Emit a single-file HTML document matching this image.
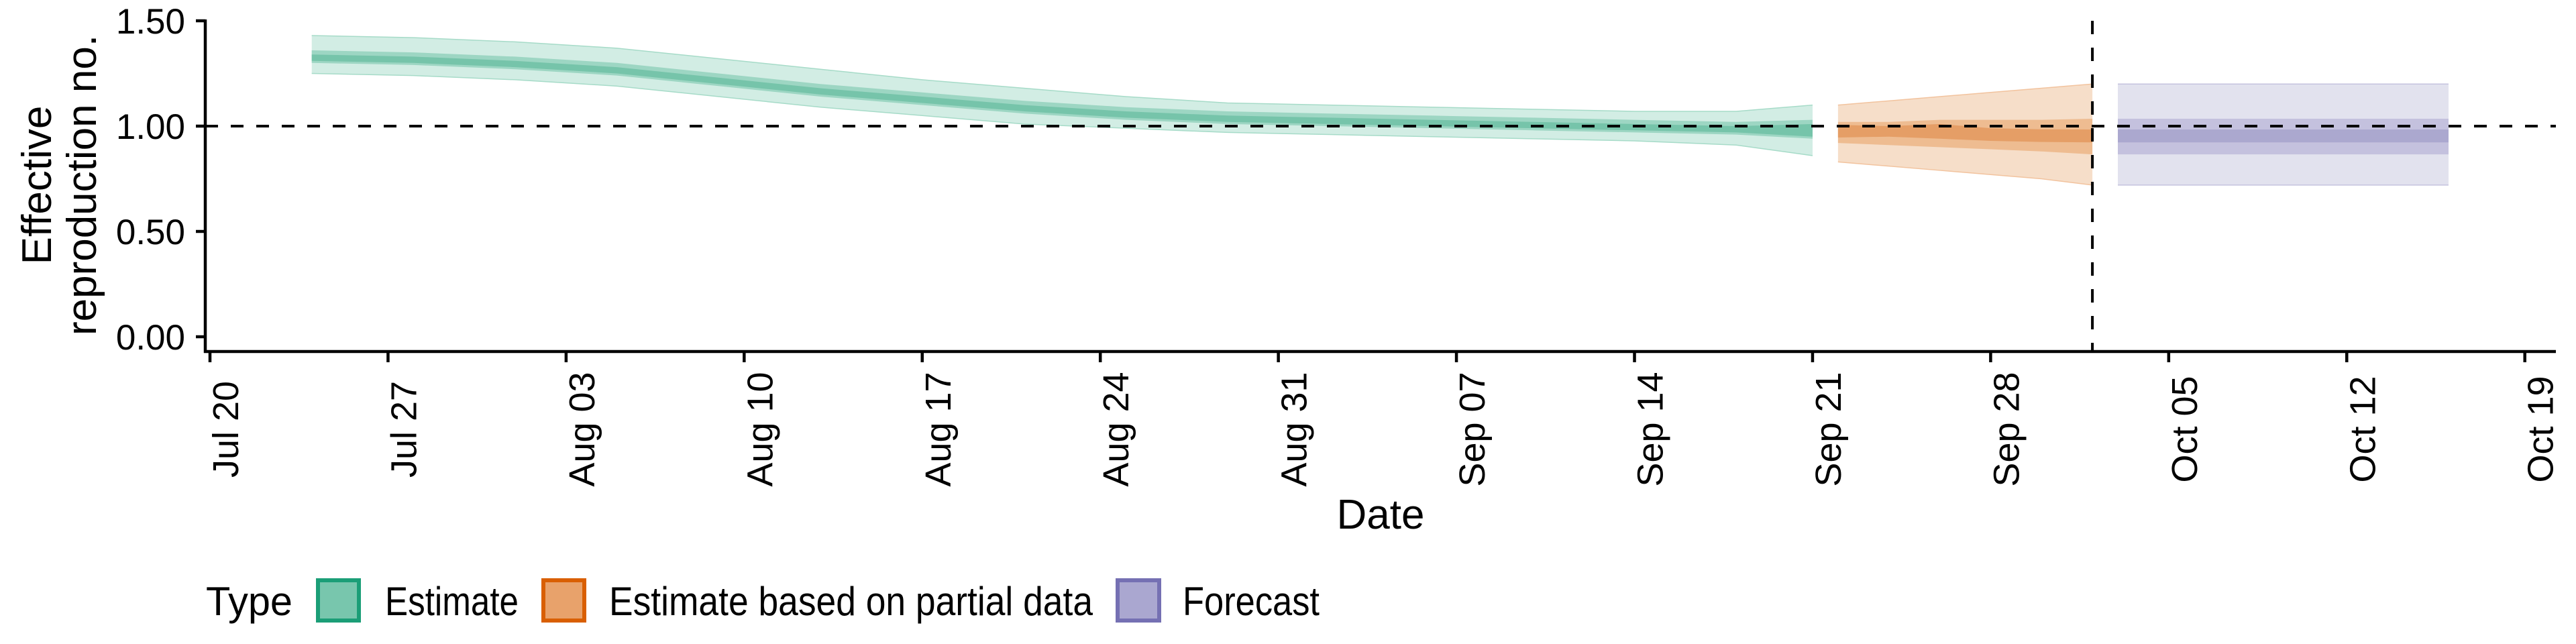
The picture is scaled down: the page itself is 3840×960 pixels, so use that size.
<!DOCTYPE html>
<html><head><meta charset="utf-8"><style>
html,body{margin:0;padding:0;background:#fff;}
svg{display:block;font-family:"Liberation Sans",Arial,sans-serif;}
</style></head><body>
<svg id="chart" width="3840" height="960" viewBox="0 0 3840 960" xmlns="http://www.w3.org/2000/svg">
<g id="bands"></g>
<g id="refs"></g>
<g id="axes"></g>
<g id="legend">
  <text x="307" y="917" font-size="60" textLength="129" lengthAdjust="spacingAndGlyphs">Type</text>
  <rect x="474" y="865" width="61" height="60" fill="#78c6ad" stroke="#1b9e77" stroke-width="6"/>
  <text x="574" y="917" font-size="60" textLength="199" lengthAdjust="spacingAndGlyphs">Estimate</text>
  <rect x="810" y="865" width="61" height="60" fill="#e8a26b" stroke="#d95f02" stroke-width="6"/>
  <text x="908" y="917" font-size="60" textLength="721" lengthAdjust="spacingAndGlyphs">Estimate based on partial data</text>
  <rect x="1666" y="865" width="62" height="60" fill="#aaa7d0" stroke="#7570b3" stroke-width="6"/>
  <text x="1763" y="917" font-size="60" textLength="204" lengthAdjust="spacingAndGlyphs">Forecast</text>
</g>
</svg>
<script>
// ---- data ----
const xTickLabels = ["Jul 20","Jul 27","Aug 03","Aug 10","Aug 17","Aug 24","Aug 31","Sep 07","Sep 14","Sep 21","Sep 28","Oct 05","Oct 12","Oct 19"];
const xTickDays = [0,7,14,21,28,35,42,49,56,63,70,77,84,91];
const yTickValues = [0,0.5,1,1.5];
const yTickLabels = ["0.00","0.50","1.00","1.50"];
// days since Jul 20
const estDays = [4,8,12,16,20,24,28,32,36,40,44,48,52,56,60,63];
const estOuterHi = [1.43,1.42,1.40,1.37,1.32,1.27,1.22,1.18,1.14,1.11,1.10,1.09,1.08,1.07,1.07,1.10];
const estOuterLo = [1.25,1.24,1.22,1.19,1.14,1.09,1.05,1.01,0.99,0.97,0.96,0.95,0.94,0.93,0.91,0.86];
const estMidHi = [1.36,1.35,1.33,1.30,1.25,1.20,1.16,1.12,1.09,1.07,1.06,1.05,1.04,1.03,1.02,1.03];
const estMidLo = [1.30,1.29,1.27,1.24,1.19,1.14,1.10,1.06,1.03,1.01,1.00,0.99,0.98,0.97,0.96,0.94];
const estInHi = [1.34,1.33,1.31,1.28,1.23,1.18,1.14,1.10,1.07,1.05,1.04,1.03,1.02,1.01,1.00,1.01];
const estInLo = [1.31,1.30,1.28,1.25,1.20,1.15,1.11,1.07,1.04,1.02,1.01,1.00,0.99,0.98,0.97,0.95];
const partDays = [64,66,68,70,72,74];
const partOuterHi = [1.10,1.12,1.14,1.16,1.18,1.20];
const partOuterLo = [0.83,0.81,0.79,0.77,0.75,0.72];
const partMidHi = [1.02,1.02,1.03,1.03,1.03,1.035];
const partMidLo = [0.92,0.91,0.90,0.89,0.88,0.866];
const partInHi = [1.006,1.00,1.01,0.99,0.985,0.984];
const partInLo = [0.946,0.95,0.94,0.93,0.925,0.923];
const fcDays = [75,88];
const fcOuterHi = [1.20,1.20];
const fcOuterLo = [0.72,0.72];
const fcMidHi = [1.035,1.035];
const fcMidLo = [0.866,0.866];
const fcInHi = [0.984,0.984];
const fcInLo = [0.923,0.923];
const refValue = 1;
const forecastStartDay = 74;

// ---- scales ----
const X0 = 313, PXD = 37.92;
const Y0 = 502, PXV = 314;
const xs = d => X0 + d * PXD;
const ys = v => Y0 - v * PXV;
const NS = "http://www.w3.org/2000/svg";
function mk(tag, parent, attrs){const e=document.createElementNS(NS,tag);for(const k in attrs)e.setAttribute(k,attrs[k]);parent.appendChild(e);return e;}

const bands = document.getElementById('bands');
function band(days, hi, lo, fill, name, edge){
  let d = days.map((dd,i)=>(i?'L':'M')+xs(dd).toFixed(1)+','+ys(hi[i]).toFixed(1)).join(' ');
  for(let i=days.length-1;i>=0;i--) d+=' L'+xs(days[i]).toFixed(1)+','+ys(lo[i]).toFixed(1);
  const p = mk('path', bands, {d:d+' Z', fill:fill});
  
  
  if(edge){
    const t = mk('path', bands, {d: days.map((dd,i)=>(i?'L':'M')+xs(dd)+','+ys(hi[i])).join(' '), fill:'none', stroke:edge, 'stroke-width':1.5});
    
    
    const b = mk('path', bands, {d: days.map((dd,i)=>(i?'L':'M')+xs(dd)+','+ys(lo[i])).join(' '), fill:'none', stroke:edge, 'stroke-width':1.5});
    
    
  }
}
band(estDays, estOuterHi, estOuterLo, '#d2ede4', 'estimate-band-90', '#a6dbc8');
band(estDays, estMidHi, estMidLo, '#9dd6c3', 'estimate-band-50');
band(estDays, estInHi, estInLo, '#76c4aa', 'estimate-band-20');
band(partDays, partOuterHi, partOuterLo, '#f6dec9', 'partial-band-90', '#f2c39e');
band(partDays, partMidHi, partMidLo, '#eebc91', 'partial-band-50');
band(partDays, partInHi, partInLo, '#e59e66', 'partial-band-20');
band(fcDays, fcOuterHi, fcOuterLo, '#e2e2ee', 'forecast-band-90', '#c4c2de');
band(fcDays, fcMidHi, fcMidLo, '#c4c1de', 'forecast-band-50');
band(fcDays, fcInHi, fcInLo, '#aba8cf', 'forecast-band-20');

const refs = document.getElementById('refs');
const hl = mk('line', refs, {x1:306, x2:3810, y1:ys(refValue), y2:ys(refValue), stroke:'#000', 'stroke-width':4, 'stroke-dasharray':'19 19'});


const vl = mk('line', refs, {x1:xs(forecastStartDay), x2:xs(forecastStartDay), y1:31, y2:522, stroke:'#000', 'stroke-width':4, 'stroke-dasharray':'20 20'});



const axes = document.getElementById('axes');
const ya = mk('line', axes, {x1:306, x2:306, y1:29, y2:526, stroke:'#000', 'stroke-width':4.5});


const xa = mk('line', axes, {x1:304, x2:3810, y1:524, y2:524, stroke:'#000', 'stroke-width':4.5});


yTickValues.forEach((v,i)=>{
  const t = mk('line', axes, {x1:292, x2:306, y1:ys(v), y2:ys(v), stroke:'#000', 'stroke-width':4.5});
  
  
  const l = mk('text', axes, {x:276, y:ys(v)+19, 'font-size':53, 'text-anchor':'end'});
  l.textContent = yTickLabels[i];
  
  
});
xTickDays.forEach((d,i)=>{
  const x = xs(d);
  const t = mk('line', axes, {x1:x, x2:x, y1:524, y2:540, stroke:'#000', 'stroke-width':4.5});
  
  
  const l = mk('text', axes, {x:0, y:0, 'font-size':54, 'text-anchor':'middle', transform:`translate(${x+42},640) rotate(-90)`});
  l.textContent = xTickLabels[i];
  
  
});
const yt = mk('text', axes, {'font-size':62, 'text-anchor':'middle', transform:'translate(76,276) rotate(-90)'});
yt.textContent = 'Effective';


const yt2 = mk('text', axes, {'font-size':62, 'text-anchor':'middle', transform:'translate(143,276) rotate(-90)'});
yt2.textContent = 'reproduction no.';


const xt = mk('text', axes, {x:2058, y:788, 'font-size':62, 'text-anchor':'middle'});
xt.textContent = 'Date';


</script>
</body></html>
